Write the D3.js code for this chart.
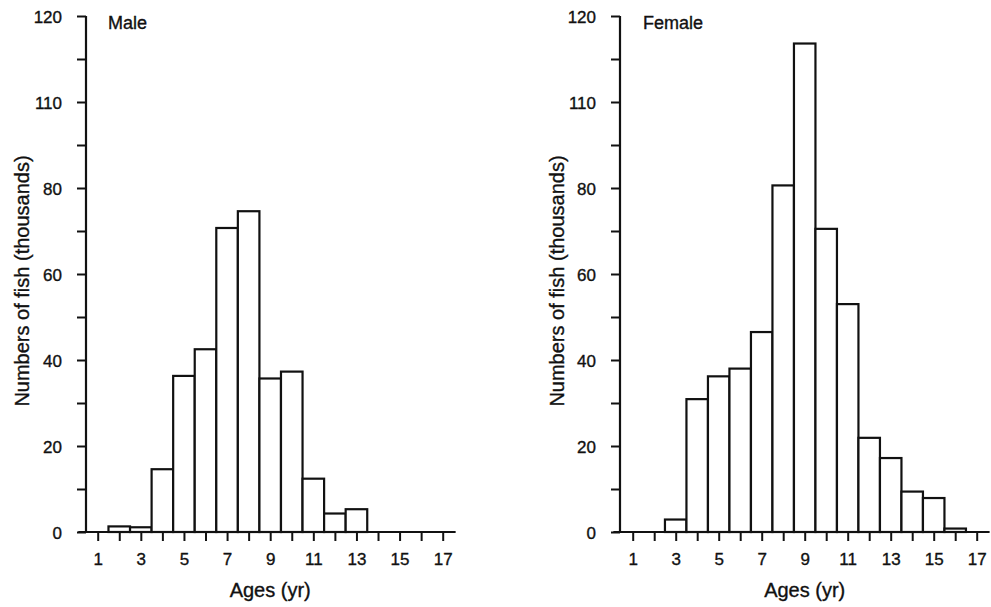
<!DOCTYPE html>
<html>
<head>
<meta charset="utf-8">
<script src="https://cdn.jsdelivr.net/npm/d3@7"></script>
<style>
  body { margin: 0; background: #fff; }
  svg { display: block; font-family: "Liberation Sans", Arial, Helvetica, sans-serif; }
</style>
</head>
<body>
<svg id="chart"></svg>
<script>
const ages = d3.range(1, 18)
const ageLabels = ["1", "3", "5", "7", "9", "11", "13", "15", "17"]
const male = [0, 1.3, 1.1, 14.6, 36.3, 42.5, 70.7, 74.6, 35.7, 37.3, 12.4, 4.3, 5.3, 0, 0, 0, 0]
const female = [0, 0, 2.9, 30.9, 36.2, 38, 46.5, 80.6, 113.6, 70.5, 53, 21.9, 17.2, 9.4, 7.9, 0.8, 0]
// the printed axis says 110 where 100 belongs, keep it as printed
const yTickValues = [0, 20, 40, 60, 80, 100, 120]
const yTickLabels = ["0", "20", "40", "60", "80", "110", "120"]

const width = 991
const height = 607

const svg = d3.select("svg#chart")
    .attr("width", width)
    .attr("height", height)

// scanned print: text a touch heavier than plain regular
const inkText = sel => sel
    .attr("fill", "#111")
    .attr("stroke", "#111")
    .attr("stroke-width", 0.35)

function drawPanel(panel) {
    const x = d3.scaleLinear()
        .domain([1, 17])
        .range([panel.left, panel.right])

    const y = d3.scaleLinear()
        .domain([0, 120])
        .range([532, 16])

    const g = svg.append("g")
        .attr("stroke", "#111")
        .attr("fill", "#111")

    // bars
    g.append("g")
        .selectAll("rect")
        .data(ages.map((a, i) => ({age: a, value: panel.values[i]})).filter(d => d.value > 0))
        .join("rect")
        .attr("x", d => x(d.age - 0.5))
        .attr("width", d => x(d.age + 0.5) - x(d.age - 0.5))
        .attr("y", d => y(d.value))
        .attr("height", d => y(0) - y(d.value))
        .attr("fill", "#fff")
        .attr("stroke", "#111")
        .attr("stroke-width", 2.2)

    // x axis
    const xAxis = g.append("g")
        .attr("transform", `translate(0,${y(0)})`)
        .call(d3.axisBottom(x)
            .tickValues(ages)
            .tickSize(9)
            .tickFormat(d => ageLabels.includes(String(d)) ? d : ""))
        .call(g => g.select(".domain").remove())
    xAxis.selectAll(".tick line").attr("stroke", "#111").attr("stroke-width", 2)
    xAxis.selectAll(".tick text")
        .attr("y", 33)
        .attr("dy", 0)
        .attr("font-size", 17)
        .attr("font-family", null)
        .call(inkText)

    g.append("line")
        .attr("x1", x(0.1))
        .attr("x2", x(17.6))
        .attr("y1", y(0))
        .attr("y2", y(0))
        .attr("stroke-width", 2.2)

    // y axis
    const yAxis = g.append("g")
        .attr("transform", `translate(${panel.axisX},0)`)
        .call(d3.axisLeft(y)
            .tickValues(d3.range(0, 121, 10))
            .tickSize(9)
            .tickFormat(d => {
                const i = yTickValues.indexOf(d)
                return i < 0 ? "" : yTickLabels[i]
            }))
        .call(g => g.select(".domain").remove())
    yAxis.selectAll(".tick line").attr("stroke", "#111").attr("stroke-width", 2)
    yAxis.selectAll(".tick text")
        .attr("x", -24)
        .attr("dy", "0.36em")
        .attr("font-size", 17)
        .attr("font-family", null)
        .call(inkText)

    g.append("line")
        .attr("x1", panel.axisX)
        .attr("x2", panel.axisX)
        .attr("y1", y(0))
        .attr("y2", y(120))
        .attr("stroke-width", 2.2)

    // labels
    g.append("text")
        .attr("x", panel.titleX)
        .attr("y", 29)
        .attr("font-size", 18)
        .text(panel.title)
        .call(inkText)

    g.append("text")
        .attr("x", (x(1) + x(17)) / 2)
        .attr("y", 597)
        .attr("text-anchor", "middle")
        .attr("font-size", 20)
        .text("Ages (yr)")
        .call(inkText)

    g.append("text")
        .attr("transform", `translate(${panel.labelX},${(y(0) + y(120)) / 2 + 7}) rotate(-90)`)
        .attr("text-anchor", "middle")
        .attr("font-size", 20)
        .text("Numbers of fish (thousands)")
        .call(inkText)
}

drawPanel({title: "Male", values: male, left: 97.7, right: 442.7, axisX: 86, titleX: 108, labelX: 29})
drawPanel({title: "Female", values: female, left: 632.7, right: 976.7, axisX: 620, titleX: 643, labelX: 564})
</script>
</body>
</html>
